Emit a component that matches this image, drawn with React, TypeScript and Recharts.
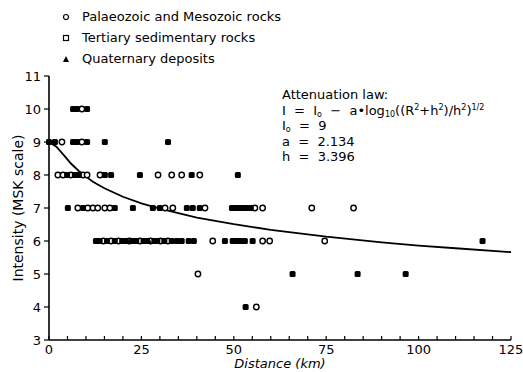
import React from 'react';
import { ScatterChart, Scatter, XAxis, YAxis } from 'recharts';

// Intensity points: x = distance (km), y = MSK intensity
const palaeozoic = [
  { x: 8.9, y: 10 },
  { x: 3.5, y: 9 }, { x: 8.9, y: 9 },
  { x: 2.4, y: 8 }, { x: 3.8, y: 8 }, { x: 5.9, y: 8 }, { x: 9.2, y: 8 }, { x: 10.3, y: 8 },
  { x: 13.8, y: 8 }, { x: 29.5, y: 8 }, { x: 33.2, y: 8 }, { x: 35.9, y: 8 }, { x: 40.8, y: 8 },
  { x: 7.8, y: 7 }, { x: 10.5, y: 7 }, { x: 11.9, y: 7 }, { x: 13.2, y: 7 }, { x: 15.1, y: 7 },
  { x: 16.5, y: 7 }, { x: 31.4, y: 7 }, { x: 33.5, y: 7 }, { x: 42.2, y: 7 }, { x: 55.7, y: 7 },
  { x: 57.8, y: 7 }, { x: 71.1, y: 7 }, { x: 82.4, y: 7 },
  { x: 14.7, y: 6 }, { x: 16.8, y: 6 }, { x: 18.8, y: 6 }, { x: 21.7, y: 6 }, { x: 24.6, y: 6 },
  { x: 27.5, y: 6 }, { x: 30.2, y: 6 }, { x: 32.2, y: 6 }, { x: 44.3, y: 6 }, { x: 57.8, y: 6 },
  { x: 59.7, y: 6 }, { x: 74.6, y: 6 },
  { x: 40.3, y: 5 },
  { x: 56.1, y: 4 },
];

const tertiary = [
  { x: 6.5, y: 10 }, { x: 7.6, y: 10 }, { x: 10.3, y: 10 },
  { x: 0, y: 9 }, { x: 1.6, y: 9 }, { x: 6.5, y: 9 }, { x: 7.6, y: 9 }, { x: 10.3, y: 9 },
  { x: 15.1, y: 9 }, { x: 32.2, y: 9 },
  { x: 4.9, y: 8 }, { x: 7.0, y: 8 }, { x: 8.1, y: 8 }, { x: 15.1, y: 8 }, { x: 16.8, y: 8 },
  { x: 24.6, y: 8 }, { x: 38.6, y: 8 }, { x: 51.1, y: 8 },
  { x: 5.1, y: 7 }, { x: 9.2, y: 7 }, { x: 17.8, y: 7 }, { x: 22.7, y: 7 }, { x: 28.1, y: 7 },
  { x: 30.0, y: 7 }, { x: 37.3, y: 7 }, { x: 38.9, y: 7 }, { x: 40.8, y: 7 }, { x: 49.5, y: 7 },
  { x: 50.5, y: 7 }, { x: 51.5, y: 7 }, { x: 52.5, y: 7 }, { x: 53.5, y: 7 }, { x: 54.6, y: 7 },
  { x: 12.7, y: 6 }, { x: 13.7, y: 6 }, { x: 15.7, y: 6 }, { x: 17.8, y: 6 }, { x: 19.8, y: 6 },
  { x: 20.8, y: 6 }, { x: 22.7, y: 6 }, { x: 23.6, y: 6 }, { x: 25.6, y: 6 }, { x: 26.5, y: 6 },
  { x: 28.5, y: 6 }, { x: 29.3, y: 6 }, { x: 31.2, y: 6 }, { x: 33.2, y: 6 }, { x: 34.6, y: 6 },
  { x: 35.9, y: 6 }, { x: 37.8, y: 6 }, { x: 39.2, y: 6 }, { x: 47.6, y: 6 }, { x: 49.7, y: 6 },
  { x: 50.8, y: 6 }, { x: 51.9, y: 6 }, { x: 53.0, y: 6 }, { x: 55.1, y: 6 }, { x: 117.3, y: 6 },
  { x: 65.9, y: 5 }, { x: 83.5, y: 5 }, { x: 96.5, y: 5 },
  { x: 53.2, y: 4 },
];

const quaternary = [
  { x: 22.0, y: 6 }, { x: 27.0, y: 6 },
];

// fitted attenuation curve
const attenuation = [
  { x: 0, y: 9 }, { x: 2, y: 8.86 }, { x: 4, y: 8.6 }, { x: 6, y: 8.34 }, { x: 8, y: 8.13 },
  { x: 10, y: 7.95 }, { x: 12, y: 7.79 }, { x: 15, y: 7.6 }, { x: 20, y: 7.34 }, { x: 25, y: 7.14 },
  { x: 30, y: 6.98 }, { x: 40, y: 6.71 }, { x: 50, y: 6.51 }, { x: 60, y: 6.34 }, { x: 75, y: 6.13 },
  { x: 90, y: 5.96 }, { x: 100, y: 5.86 }, { x: 110, y: 5.78 }, { x: 125, y: 5.66 },
];

const xTicks = [0, 5, 10, 15, 20, 25, 30, 35, 40, 45, 50, 55, 60, 65, 70, 75, 80, 85, 90, 95, 100, 105, 110, 115, 120, 125];
const xLabels = [0, 25, 50, 75, 100, 125];
const yTicks = [3, 4, 5, 6, 7, 8, 9, 10, 11];

const legendItems = [
  { name: 'Palaeozoic and Mesozoic rocks', symbol: 'circle' },
  { name: 'Tertiary sedimentary rocks', symbol: 'square' },
  { name: 'Quaternary deposits', symbol: 'triangle' },
];

const FONT = '"DejaVu Sans", sans-serif';
const sub = { fontSize: 8, lineHeight: '8px', position: 'relative' as const, top: 2 };
const sup = { fontSize: 8, lineHeight: '8px', position: 'relative' as const, top: -5 };

const OpenCircle = (p: any) => (
  <circle cx={p.cx} cy={p.cy} r={2.7} fill="#fff" stroke="#000" strokeWidth={1.4} />
);
const FilledSquare = (p: any) => (
  <rect x={p.cx - 3} y={p.cy - 3} width={6} height={6} rx={1.5} fill="#000" />
);
const FilledTriangle = (p: any) => (
  <path d={`M${p.cx},${p.cy - 3.5}L${p.cx + 3.5},${p.cy + 3}L${p.cx - 3.5},${p.cy + 3}Z`} fill="#000" />
);
const NoDot = () => <g />;

const XTick = ({ x, y, payload }: any) => (
  <g>
    <line x1={x} x2={x} y1={y} y2={y - 4} stroke="#000" strokeWidth={1.2} />
    {xLabels.includes(payload.value) && (
      <text x={x} y={y + 14} textAnchor="middle" fontSize={13} fontFamily={FONT} fill="#000">
        {payload.value}
      </text>
    )}
  </g>
);

const LegendSymbol = ({ type }: { type: string }) => (
  <svg width={8} height={8} style={{ marginRight: 12 }}>
    {type === 'circle' && <circle cx={4} cy={4} r={2.5} fill="#fff" stroke="#000" strokeWidth={1.2} />}
    {type === 'square' && <rect x={1.5} y={1.5} width={5} height={5} fill="#fff" stroke="#000" strokeWidth={1.2} />}
    {type === 'triangle' && <path d="M4,1L7,7L1,7Z" fill="#000" />}
  </svg>
);

export default function App() {
  return (
    <div style={{ position: 'absolute', left: 0, top: 0, width: 523, height: 372, background: '#fff', fontFamily: FONT, color: '#000' }}>
      <ScatterChart width={523} height={372} margin={{ top: 76, right: 12, bottom: 10, left: 19 }}>
        <XAxis
          type="number"
          dataKey="x"
          domain={[0, 125]}
          ticks={xTicks}
          interval={0}
          tickSize={0}
          tickMargin={0}
          tick={<XTick />}
          height={22}
          axisLine={{ stroke: '#000', strokeWidth: 1.6 }}
        />
        <YAxis
          type="number"
          dataKey="y"
          domain={[3, 11]}
          ticks={yTicks}
          interval={0}
          width={30}
          tickSize={5}
          tickMargin={3}
          tick={{ fill: '#000', fontSize: 13, fontFamily: FONT }}
          tickLine={{ stroke: '#000', strokeWidth: 1.2 }}
          axisLine={{ stroke: '#000', strokeWidth: 1.6 }}
        />
        <Scatter data={attenuation} shape={NoDot} line={{ stroke: '#000', strokeWidth: 1.8 }} isAnimationActive={false} />
        <Scatter data={palaeozoic} shape={OpenCircle} isAnimationActive={false} />
        <Scatter data={tertiary} shape={FilledSquare} isAnimationActive={false} />
        <Scatter data={quaternary} shape={FilledTriangle} isAnimationActive={false} />
      </ScatterChart>

      <div style={{ position: 'absolute', left: 62, top: 6, fontSize: 13, lineHeight: '21px' }}>
        {legendItems.map((it) => (
          <div key={it.name} style={{ display: 'flex', alignItems: 'center' }}>
            <LegendSymbol type={it.symbol} />
            <span>{it.name}</span>
          </div>
        ))}
      </div>

      <div style={{ position: 'absolute', left: 282, top: 87, fontSize: 13, lineHeight: '15.5px', whiteSpace: 'nowrap' }}>
        <div>Attenuation law:</div>
        <div>
          I&nbsp; = &nbsp;I<span style={sub}>o</span> &nbsp;− &nbsp;a•log<span style={sub}>10</span>((R
          <span style={sup}>2</span>+h<span style={sup}>2</span>)/h
          <span style={sup}>2</span>)<span style={sup}>1/2</span>
        </div>
        <div>I<span style={sub}>o</span> &nbsp;= &nbsp;9</div>
        <div>a &nbsp;= &nbsp;2.134</div>
        <div>h &nbsp;= &nbsp;3.396</div>
      </div>

      <div style={{ position: 'absolute', left: 0, top: 356, width: 560, textAlign: 'center', fontSize: 13, lineHeight: '15px', fontStyle: 'italic' }}>
        Distance (km)
      </div>
      <div
        style={{
          position: 'absolute',
          left: 18,
          top: 208,
          fontSize: 14,
          whiteSpace: 'nowrap',
          transform: 'translate(-50%, -50%) rotate(-90deg)',
        }}
      >
        Intensity (MSK scale)
      </div>
    </div>
  );
}
